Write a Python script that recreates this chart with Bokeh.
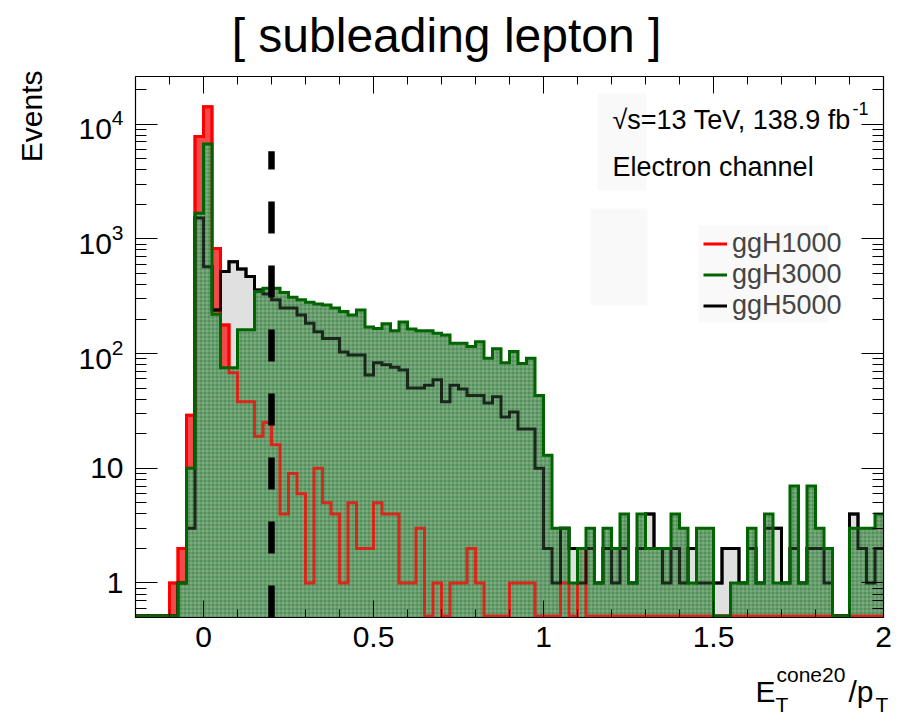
import numpy as np
from bokeh.plotting import figure
from bokeh.models import (Range1d, LinearAxis, LogAxis, SingleIntervalTicker, FixedTicker,
                          Label, BoxAnnotation, Legend, LegendItem, CustomJSTickFormatter)
from bokeh.embed import file_html
from bokeh.resources import INLINE

# ---------------- data ----------------
X_MIN, X_MAX, BIN_W = -0.2, 2.0, 0.025
Y_MIN, Y_MAX = 0.5, 26000

ggH1000 = [0, 0, 0, 0, 1, 2, 29, 7800, 14200, 822,
           177, 68, 38, 38, 19, 25, 16, 4, 9, 6,
           1, 10, 5, 4, 1, 5, 2, 2, 5, 4,
           4, 1, 1, 3, 0, 1, 0, 1, 1, 2,
           1, 0, 0, 0, 1, 1, 1, 0, 0, 0,
           1, 0, 2, 0, 0, 0, 0, 0, 0, 0,
           0, 0, 0, 0, 0, 0, 0, 0, 0, 0,
           0, 0, 0, 0, 0, 0, 0, 0, 0, 0,
           0, 0, 0, 0, 0, 0, 0, 0]
ggH3000 = [0, 0, 0, 0, 0, 1, 10, 1670, 6700, 220,
           75, 75, 161, 161, 347, 370, 370, 340, 310, 295,
           280, 270, 265, 249, 232, 217, 240, 170, 165, 182,
           158, 188, 164, 158, 158, 150, 145, 123, 123, 115,
           127, 91, 110, 83, 104, 82, 91, 43, 13, 3,
           3, 1, 2, 3, 1, 3, 2, 4, 1, 4,
           2, 2, 2, 4, 3, 1, 3, 3, 0, 0,
           1, 1, 3, 1, 4, 1, 1, 7, 1, 7,
           3, 2, 0, 0, 3, 3, 3, 4]
ggH5000 = [0, 0, 0, 0, 0, 1, 3, 1520, 570, 240,
           520, 630, 545, 470, 358, 330, 295, 250, 250, 217,
           184, 155, 135, 135, 103, 97, 97, 65, 83, 80,
           76, 72, 50, 50, 53, 59, 38, 53, 49, 43,
           43, 37, 42, 28, 31, 22, 22, 10, 2, 1,
           3, 2, 1, 2, 1, 2, 1, 2, 1, 2,
           4, 2, 1, 2, 1, 2, 1, 1, 1, 2,
           2, 1, 2, 1, 3, 3, 1, 2, 1, 2,
           2, 1, 0, 0, 4, 2, 1, 2]
series_names = ["ggH1000", "ggH3000", "ggH5000"]
CUT_X, CUT_TOP = 0.2, 5800

y_major = [1, 10, 100, 1000, 10000]
y_minor = [m * 10.0 ** k for k in range(-1, 5) for m in range(2, 10)
           if Y_MIN <= m * 10.0 ** k <= Y_MAX]

# ---------------- geometry of the page ----------------
W, H = 897, 715
FL, FR, FT, FB = 135, 883, 76, 617     # pixel box of the axes frame
FONT = "Liberation Sans"


def dx(px):
    return X_MIN + (px - FL) / (FR - FL) * (X_MAX - X_MIN)


def dy(py):
    lo, hi = np.log10(Y_MIN), np.log10(Y_MAX)
    return 10 ** (lo + (FB - py) / (FB - FT) * (hi - lo))


edges = X_MIN + BIN_W * np.arange(len(ggH1000) + 1)
LINE_FLOOR = dy(FB - 1.5)


def step_vals(v, fl):
    v = np.asarray(v, dtype=float)
    v = np.where(v > 0, v, fl)
    return np.append(v, v[-1])


red_y, green_y, black_y = (step_vals(s, LINE_FLOOR) for s in (ggH1000, ggH3000, ggH5000))
red_f, green_f, black_f = (step_vals(s, Y_MIN) for s in (ggH1000, ggH3000, ggH5000))
floor = np.full(len(edges), Y_MIN)

p = figure(width=W, height=H, x_range=Range1d(dx(0), dx(W)), y_range=Range1d(dy(H), dy(0)),
           y_axis_type="log", output_backend="svg", toolbar_location=None,
           min_border_left=0, min_border_right=0, min_border_top=0, min_border_bottom=0)
p.xgrid.grid_line_color = None
p.ygrid.grid_line_color = None
p.background_fill_color = "white"
p.border_fill_color = "white"
p.outline_line_color = None

RED, GREEN, BLACK = "#ff0000", "#006400", "#000000"
GREEN_FILL = "#53905a"
RED_FILL = "#f24a4a"

# faint boxes
for l, r, t, b in [(597, 646, 93, 190), (590, 647, 208, 305), (698, 828, 225, 322)]:
    p.add_layout(BoxAnnotation(left=dx(l), right=dx(r), top=dy(t), bottom=dy(b),
                               fill_color="#f9f9f9", fill_alpha=1, line_color=None, level="underlay"))

# fills and outlines
p.varea_step(x=edges, y1=floor, y2=black_f, step_mode="after", fill_color="#000000", fill_alpha=0.12)
p.varea_step(x=edges, y1=floor, y2=red_f, step_mode="after", fill_color=RED_FILL, fill_alpha=1)
r_red = p.step(x=edges, y=red_y, mode="after", line_color=RED, line_width=3, line_join="miter")
r_black = p.step(x=edges, y=black_y, mode="after", line_color=BLACK, line_width=3, line_join="miter")
p.varea_step(x=edges, y1=floor, y2=green_f, step_mode="after", fill_color=GREEN_FILL, fill_alpha=1,
             hatch_pattern="+", hatch_color="white", hatch_alpha=0.3, hatch_scale=4, hatch_weight=0.8)
p.step(x=edges, y=red_y, mode="after", line_color=RED, line_width=3, line_join="miter", line_alpha=0.75)
p.step(x=edges, y=black_y, mode="after", line_color=BLACK, line_width=3, line_join="miter", line_alpha=0.75)
r_green = p.step(x=edges, y=green_y, mode="after", line_color=GREEN, line_width=3, line_join="miter")

# cut line
p.line(x=[CUT_X, CUT_X], y=[Y_MIN, CUT_TOP], line_color="black", line_width=6.5, line_dash="32 32")

# axes (drawn on the frame box, inside the canvas)
xt = SingleIntervalTicker(interval=0.5, num_minor_ticks=5)
yt = FixedTicker(ticks=y_major, minor_ticks=y_minor)
blank = CustomJSTickFormatter(code="return ''")

bottom_ax = p.xaxis[0]
left_ax = p.yaxis[0]
bottom_ax.ticker = xt
bottom_ax.major_label_overrides = {0: "0", 0.5: "0.5", 1: "1", 1.5: "1.5", 2: "2"}
left_ax.ticker = yt
left_ax.major_label_overrides = {1: "1", 10: "10"}
bottom_ax.fixed_location = Y_MIN
left_ax.fixed_location = X_MIN

top_ax = LinearAxis(ticker=xt, formatter=blank, major_label_text_font_size="2px",
                    major_label_standoff=0, fixed_location=Y_MAX)
right_ax = LogAxis(ticker=yt, formatter=blank, major_label_text_font_size="2px",
                   major_label_standoff=0, fixed_location=X_MAX)
p.add_layout(top_ax, "above")
p.add_layout(right_ax, "right")

for ax in [bottom_ax, top_ax]:
    ax.bounds = (X_MIN, X_MAX)
    ax.major_tick_in, ax.major_tick_out = 17, 0
    ax.minor_tick_in, ax.minor_tick_out = 8, 0
for ax in [left_ax, right_ax]:
    ax.bounds = (Y_MIN, Y_MAX)
    ax.major_tick_in, ax.major_tick_out = 22, 0
    ax.minor_tick_in, ax.minor_tick_out = 11, 0
for ax in [bottom_ax, top_ax, left_ax, right_ax]:
    ax.axis_line_color = "black"
    ax.axis_line_width = 1.2
    ax.major_tick_line_color = "black"
    ax.minor_tick_line_color = "black"
for ax in [bottom_ax, left_ax]:
    ax.major_label_text_font = FONT
    ax.major_label_text_font_size = "30px"
    ax.major_label_text_color = "black"
bottom_ax.major_label_standoff = 9
left_ax.major_label_standoff = 12

# legend
legend = Legend(items=[LegendItem(label=n, renderers=[r]) for n, r in zip(series_names, [r_red, r_green, r_black])],
                location=(703, 394), padding=0, margin=0, spacing=0,
                glyph_width=24, glyph_height=31, label_height=31, label_standoff=5,
                label_text_font=FONT, label_text_font_size="27px", label_text_baseline="middle",
                background_fill_alpha=0, border_line_color=None)
p.add_layout(legend, "center")


# texts
def add_text(txt, px, py, size, align="left", baseline="alphabetic", angle=0.0):
    p.add_layout(Label(x=dx(px), y=dy(py), text=txt, text_font=FONT, text_font_size=size,
                       text_align=align, text_baseline=baseline, angle=angle, text_color="black"))


add_text("[ subleading lepton ]", 446, 35, "48px", align="center")
add_text("Events", 31, 70, "30px", align="right", angle=np.pi / 2)
add_text("\u221as=13 TeV, 138.9 fb", 612, 119, "27px")
add_text("-1", 852, 108, "18px")
add_text("Electron channel", 612, 166, "27px")
add_text("E", 755, 691, "30px")
add_text("cone20", 776, 674, "21px")
add_text("T", 775, 704, "21px")
add_text("/p", 848, 691, "30px")
add_text("T", 875, 704, "21px")

open("out.html", "w").write(file_html(p, INLINE))
